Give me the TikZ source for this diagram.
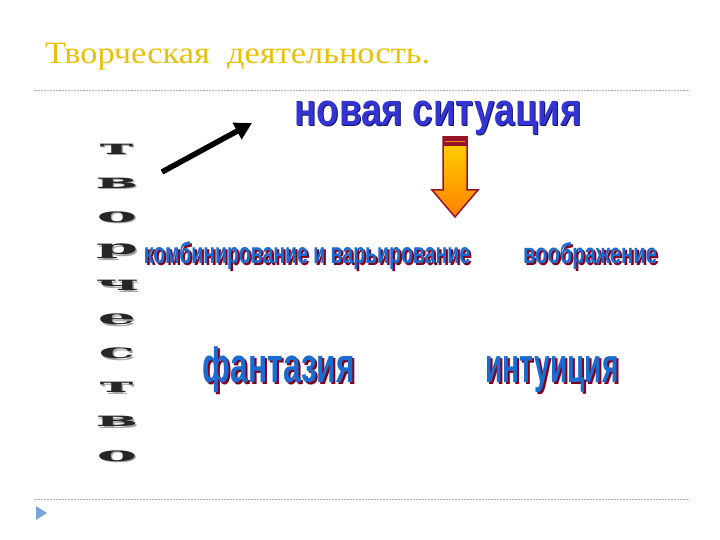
\documentclass[tikz,border=0pt]{standalone}
\usepackage{fontspec}
\setmainfont{Liberation Serif}
\setsansfont{Liberation Sans}
\newfontfamily\letterfont{DejaVu Serif}
\usepackage{graphicx}
\usepackage{xcolor}
\usetikzlibrary{arrows.meta, positioning}

\definecolor{titlegold}{RGB}{232,192,10}
\definecolor{rulegray}{RGB}{175,175,175}
\definecolor{artblue}{RGB}{28,108,208}
\definecolor{artnavy}{RGB}{52,52,212}
\definecolor{artdark}{RGB}{20,20,90}
\definecolor{artred}{RGB}{130,0,30}
\definecolor{arrowred}{RGB}{150,20,40}
\definecolor{arrowyellow}{RGB}{255,214,0}
\definecolor{bulletblue}{RGB}{120,165,215}

\newcommand{\wart}[3]{\resizebox*{#1}{#2}{\sffamily\bfseries #3}}

\begin{document}
\begin{tikzpicture}[x=1pt, y=-1pt, every node/.style={inner sep=0pt, outer sep=0pt},
    arttext/.style={text=artblue}, artshade/.style={text=artred}]
            \useasboundingbox (0,0) rectangle (720,540);
            % title and rules
            \node[text=titlegold, anchor=west] (title) at (45,56.5) {\resizebox*{385pt}{27pt}{Творческая\ \ деятельность.}};
            \draw[rulegray, dash pattern=on 2pt off 1pt, line width=0.6pt] (35,90) -- (690,90);
            \draw[rulegray, dash pattern=on 2pt off 1pt, line width=0.6pt] (35,499) -- (690,499);
            \fill[bulletblue] (36,506) -- (47,513) -- (36,520) -- cycle;

            % vertical word
            \foreach \ch [count=\i from 0] in {т,в,о,р,ч,е,с,т,в,о} {
                \node[text=black!35] (sh\i) at (118.5,{150.5+34.1*\i}) {\scalebox{3}[1]{\fontsize{20}{20}\letterfont\bfseries\ch}};
                \node[text=black!85] (l\i) at (117,{149+34.1*\i}) {\scalebox{3}[1]{\fontsize{20}{20}\letterfont\bfseries\ch}};
            }

            % arrows
            \coordinate (tail) at (162,172);
            \coordinate (tip) at (252,123);
            \draw[line width=5.5pt, -{Triangle[length=17pt,width=18pt]}] (tail) -- (tip);
            \draw[draw=arrowred, line width=1.5pt, top color=arrowyellow, bottom color=orange]
                (443,137) -- (467,137) -- (467,190) -- (478,190) -- (455,217) -- (432,190) -- (443,190) -- cycle;
            \fill[arrowred] (443,137) rectangle (467,146);
            \draw[orange, line width=1.5pt] (445,141.5) -- (465,141.5);

            % words
            \node[text=artdark] (newsit-sh) at (439,119) {\wart{287pt}{34pt}{новая ситуация}};
            \node[text=artnavy] (newsit) at (438,118) {\wart{287pt}{34pt}{новая ситуация}};
            \node[artshade] (comb-sh) at (309,258) {\wart{326pt}{28pt}{комбинирование и варьирование}};
            \node[arttext] (comb) at (307,256) {\wart{326pt}{28pt}{комбинирование и варьирование}};
            \node[artshade] (imag-sh) at (592,258) {\wart{134pt}{27pt}{воображение}};
            \node[arttext] (imag) at (590,256) {\wart{134pt}{27pt}{воображение}};
            \node[artshade] (fant-sh) at (281,372) {\wart{152pt}{46pt}{фантазия}};
            \node[arttext] (fant) at (279,370) {\wart{152pt}{46pt}{фантазия}};
            \node[artshade] (intu-sh) at (554,377) {\wart{133pt}{36pt}{интуиция}};
            \node[arttext] (intu) at (552,375) {\wart{133pt}{36pt}{интуиция}};
\end{tikzpicture}
\end{document}
